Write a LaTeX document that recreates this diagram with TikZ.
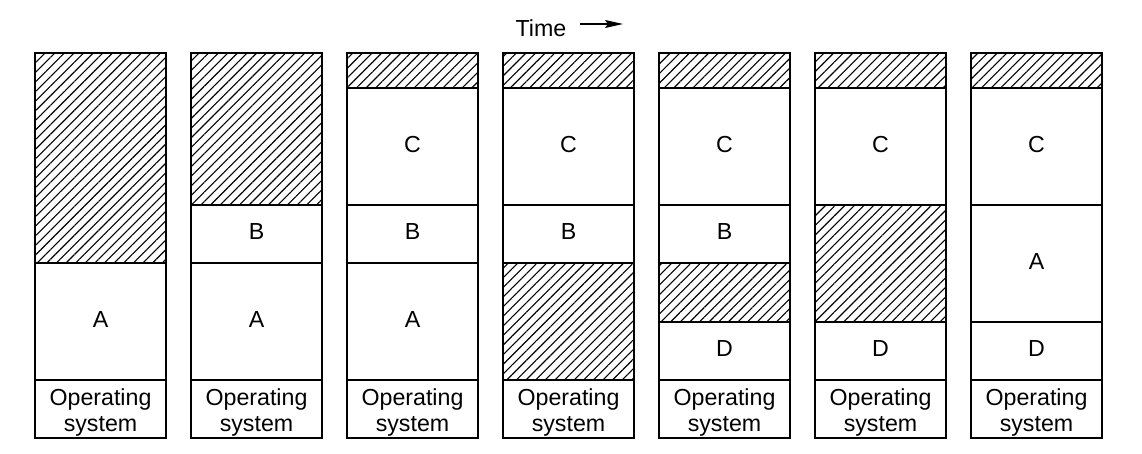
\documentclass[tikz,border=0pt]{standalone}
\usepackage{fontspec}
\setmainfont{Liberation Sans}
\usetikzlibrary{patterns.meta, arrows.meta}
\tikzset{
  marco/.style={line width=1pt},
  hueco/.style={marco, pattern={Lines[angle=45, distance=3.4pt, line width=0.55pt]}},
  etiqueta/.style={font=\fontsize{11.6}{13}\selectfont, align=center, inner sep=0pt},
}
% Sistema operativo, abajo de cada columna
\newcommand{\sistematikz}[1]{
  \draw[marco] (0,380) rectangle (131,438);
  \node[etiqueta] (so#1) at (65.5,413) {Operating\\system};
}
% Proceso: y1, y2, letra, nombre
\newcommand{\bloquetikz}[4]{
  \draw[marco] (0,#1) rectangle (131,#2);
  \node[etiqueta] (#4) at (65.5,{(#1+#2)/2-2}) {#3};
}
% Hueco libre
\newcommand{\huecotikz}[2]{
  \draw[hueco] (0,#1) rectangle (131,#2);
}

\begin{document}
\begin{tikzpicture}[x=0.5pt, y=-0.5pt] % {{{
\useasboundingbox (0,0) rectangle (1142,454);
\pgfmathsetmacro{\paso}{156}
\node[etiqueta] (tiempo) at (541,28) {Time};
\coordinate (punta) at (623,24);
\draw[line width=0.6pt, -{Stealth[length=9pt, width=4pt, inset=1.5pt]}] ([xshift=6.5pt]tiempo.east |- punta) -- (punta);
\begin{scope}[shift={(35+0*\paso,0)}] % Columna 1 {{{
\huecotikz{53}{263}
\bloquetikz{263}{380}{A}{a1}
\sistematikz{1}
\end{scope} % }}}
\begin{scope}[shift={(35+1*\paso,0)}] % Columna 2 {{{
\huecotikz{53}{205}
\bloquetikz{205}{263}{B}{b2}
\bloquetikz{263}{380}{A}{a2}
\sistematikz{2}
\end{scope} % }}}
\begin{scope}[shift={(35+2*\paso,0)}] % Columna 3 {{{
\huecotikz{53}{88}
\bloquetikz{88}{205}{C}{c3}
\bloquetikz{205}{263}{B}{b3}
\bloquetikz{263}{380}{A}{a3}
\sistematikz{3}
\end{scope} % }}}
\begin{scope}[shift={(35+3*\paso,0)}] % Columna 4 {{{
\huecotikz{53}{88}
\bloquetikz{88}{205}{C}{c4}
\bloquetikz{205}{263}{B}{b4}
\huecotikz{263}{380}
\sistematikz{4}
\end{scope} % }}}
\begin{scope}[shift={(35+4*\paso,0)}] % Columna 5 {{{
\huecotikz{53}{88}
\bloquetikz{88}{205}{C}{c5}
\bloquetikz{205}{263}{B}{b5}
\huecotikz{263}{322}
\bloquetikz{322}{380}{D}{d5}
\sistematikz{5}
\end{scope} % }}}
\begin{scope}[shift={(35+5*\paso,0)}] % Columna 6 {{{
\huecotikz{53}{88}
\bloquetikz{88}{205}{C}{c6}
\huecotikz{205}{322}
\bloquetikz{322}{380}{D}{d6}
\sistematikz{6}
\end{scope} % }}}
\begin{scope}[shift={(35+6*\paso,0)}] % Columna 7 {{{
\huecotikz{53}{88}
\bloquetikz{88}{205}{C}{c7}
\bloquetikz{205}{322}{A}{a7}
\bloquetikz{322}{380}{D}{d7}
\sistematikz{7}
\end{scope} % }}}
\end{tikzpicture} % }}}
\end{document}
